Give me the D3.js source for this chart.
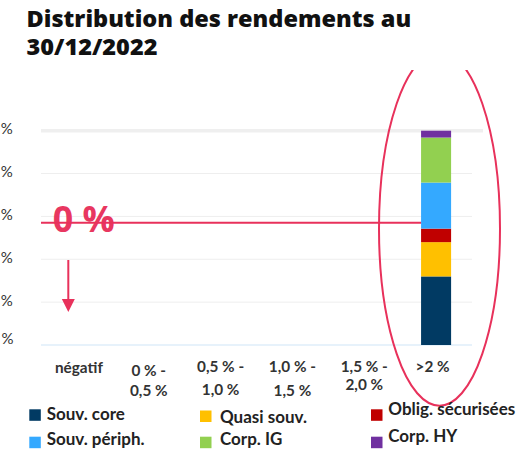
<!DOCTYPE html>
<html><head><meta charset="utf-8">
<script src="https://cdn.jsdelivr.net/npm/d3@7"></script>
<style>html,body{margin:0;padding:0;background:#fff;overflow:hidden}</style>
</head><body>
<svg id="c" width="518" height="451"></svg>
<script>
// ---- data ----
const categories = ["négatif", "0 % - 0,5 %", "0,5 % - 1,0 %", "1,0 % - 1,5 %", "1,5 % - 2,0 %", ">2 %"];
const categoryLines = [["négatif"], ["0 % -", "0,5 %"], ["0,5 % -", "1,0 %"], ["1,0 % -", "1,5 %"], ["1,5 % -", "2,0 %"], [">2 %"]];
const seriesNames = ["Souv. core", "Quasi souv.", "Oblig. sécurisées", "Souv. périph.", "Corp. IG", "Corp. HY"];
const souvCore    = [0, 0, 0, 0, 0, 32];
const quasiSouv   = [0, 0, 0, 0, 0, 16];
const obligSecur  = [0, 0, 0, 0, 0, 6.3];
const souvPeriph  = [0, 0, 0, 0, 0, 21.5];
const corpIG      = [0, 0, 0, 0, 0, 21];
const corpHY      = [0, 0, 0, 0, 0, 3.2];
const yTicks = [0, 20, 40, 60, 80, 100];
const yTickLabels = ["0 %", "20 %", "40 %", "60 %", "80 %", "100 %"];
const thresholdLabel = "0 %";
const thresholdValue = 57;
const titleLines = ["Distribution des rendements au", "30/12/2022"];

// ---- style ----
const colors = ["#013A63", "#FFC000", "#C00000", "#34A9FF", "#92D050", "#7030A0"];
const accent = "#E8315B";
const seriesValues = [souvCore, quasiSouv, obligSecur, souvPeriph, corpIG, corpHY];

const svg = d3.select("#c");
function fit(text, family, weight, target) {
  const t = svg.append("text").attr("font-family", family).attr("font-weight", weight).attr("font-size", 40).text(text);
  const w = t.node().getComputedTextLength(); t.remove();
  return 40 * target / w;
}

const x = d3.scaleBand().domain(categories).range([41, 472]).paddingInner(0.582).paddingOuter(0.291);
const y = d3.scaleLinear().domain([0, 100]).range([345, 130.7]);

// title
const titleFont = "'Open Sans', sans-serif";
const titleSize = fit(titleLines[0], titleFont, 800, 385);
svg.selectAll("text.title").data(titleLines).join("text").attr("class", "title")
  .attr("x", 26.5).attr("y", (d, i) => 27.3 + i * 27.7)
  .attr("font-family", titleFont).attr("font-weight", 800).attr("font-size", titleSize)
  .attr("fill", "#111").text(d => d);

// gridlines
const g = svg.append("g");
yTicks.forEach((t, i) => {
  if (t === 0) return;
  const top = t === 100;
  g.append("line").attr("x1", 41).attr("x2", top ? 483 : 472)
    .attr("y1", y(t)).attr("y2", y(t))
    .attr("stroke", top ? "#efefef" : "#eeeeee").attr("stroke-width", top ? 3.5 : 1);
});
g.append("line").attr("x1", 41).attr("x2", 472).attr("y1", y(0)).attr("y2", y(0))
  .attr("stroke", "#cfe6f8").attr("stroke-width", 1.2);

// y labels (cropped at the left, as in the reference)
const lblFont = "Lato, 'Open Sans', sans-serif";
svg.selectAll("text.ylab").data(yTicks).join("text").attr("class", "ylab")
  .attr("x", (d, i) => i === 0 ? 13.5 : 12.7).attr("y", (d, i) => y(d) + (i === 0 ? -1.5 : 3.5))
  .attr("text-anchor", "end").attr("font-family", lblFont).attr("font-size", 15)
  .attr("fill", "#333").text((d, i) => yTickLabels[i]);

// stacked bars
const table = categories.map((c, i) => {
  const o = { cat: c };
  seriesNames.forEach((s, k) => o[s] = seriesValues[k][i]);
  return o;
});
const stacked = d3.stack().keys(seriesNames)(table);
svg.append("g").selectAll("g").data(stacked).join("g").attr("fill", (d, i) => colors[i])
  .selectAll("rect").data(d => d).join("rect")
  .attr("x", d => x(d.data.cat)).attr("width", x.bandwidth())
  .attr("y", d => y(d[1])).attr("height", d => Math.max(0, y(d[0]) - y(d[1])));

// x labels
const xSize = fit("négatif", lblFont, 700, 48);
const lineY = [[373.3], [376, 395.5], [371.7, 395], [371.7, 395.5], [371.7, 389.5], [371.7]];
const xl = svg.append("g");
categoryLines.forEach((lines, i) => {
  lines.forEach((ln, j) => {
    xl.append("text").attr("x", x(categories[i]) + x.bandwidth() / 2 - (i === 5 ? 3.5 : 0) + (i === 0 ? 2 : 0))
      .attr("y", lineY[i][j]).attr("text-anchor", "middle")
      .attr("font-family", lblFont).attr("font-weight", 700).attr("font-size", xSize)
      .attr("fill", "#333").text(ln);
  });
});

// threshold annotation
const barLeft = x(categories[5]);
svg.append("line").attr("x1", 41).attr("x2", barLeft).attr("y1", y(thresholdValue)).attr("y2", y(thresholdValue))
  .attr("stroke", accent).attr("stroke-width", 2);
const annSize = fit(thresholdLabel, titleFont, 700, 62);
svg.append("text").attr("x", 52.7).attr("y", 231.7).attr("font-family", titleFont).attr("font-weight", 700)
  .attr("font-size", annSize).attr("fill", accent).attr("opacity", 0.97).text(thresholdLabel);
// arrow
svg.append("line").attr("x1", 68.3).attr("x2", 68.3).attr("y1", 260).attr("y2", 300)
  .attr("stroke", accent).attr("stroke-width", 2);
svg.append("path").attr("d", d3.line()([[61.8, 299], [74.8, 299], [68.3, 312]]) + "Z").attr("fill", accent);

// ellipse (clipped at the top)
svg.append("clipPath").attr("id", "clipE").append("rect").attr("x", 0).attr("y", 70).attr("width", 518).attr("height", 381);
svg.append("ellipse").attr("cx", 439.5).attr("cy", 228.7).attr("rx", 60.5).attr("ry", 177)
  .attr("fill", "none").attr("stroke", accent).attr("stroke-width", 2).attr("clip-path", "url(#clipE)");

// legend
const legSize = fit("Oblig. sécurisées", lblFont, 700, 127);
const legPos = [
  { sx: 29.3, sy: 409.3, tx: 46.7, ty: 420 },
  { sx: 200, sy: 410.5, tx: 220, ty: 423.3 },
  { sx: 371, sy: 409.3, tx: 388.3, ty: 415 },
  { sx: 29.3, sy: 436.7, tx: 46.7, ty: 445 },
  { sx: 200, sy: 436.7, tx: 220, ty: 445 },
  { sx: 371, sy: 436.7, tx: 388.3, ty: 442.3 }
];
const leg = svg.append("g");
seriesNames.forEach((s, i) => {
  const p = legPos[i];
  leg.append("rect").attr("x", p.sx).attr("y", p.sy).attr("width", 11.5).attr("height", 11.5).attr("fill", colors[i]);
  leg.append("text").attr("x", p.tx).attr("y", p.ty).attr("font-family", lblFont).attr("font-weight", 700)
    .attr("font-size", legSize).attr("fill", "#222").text(s);
});
</script>
</body></html>
